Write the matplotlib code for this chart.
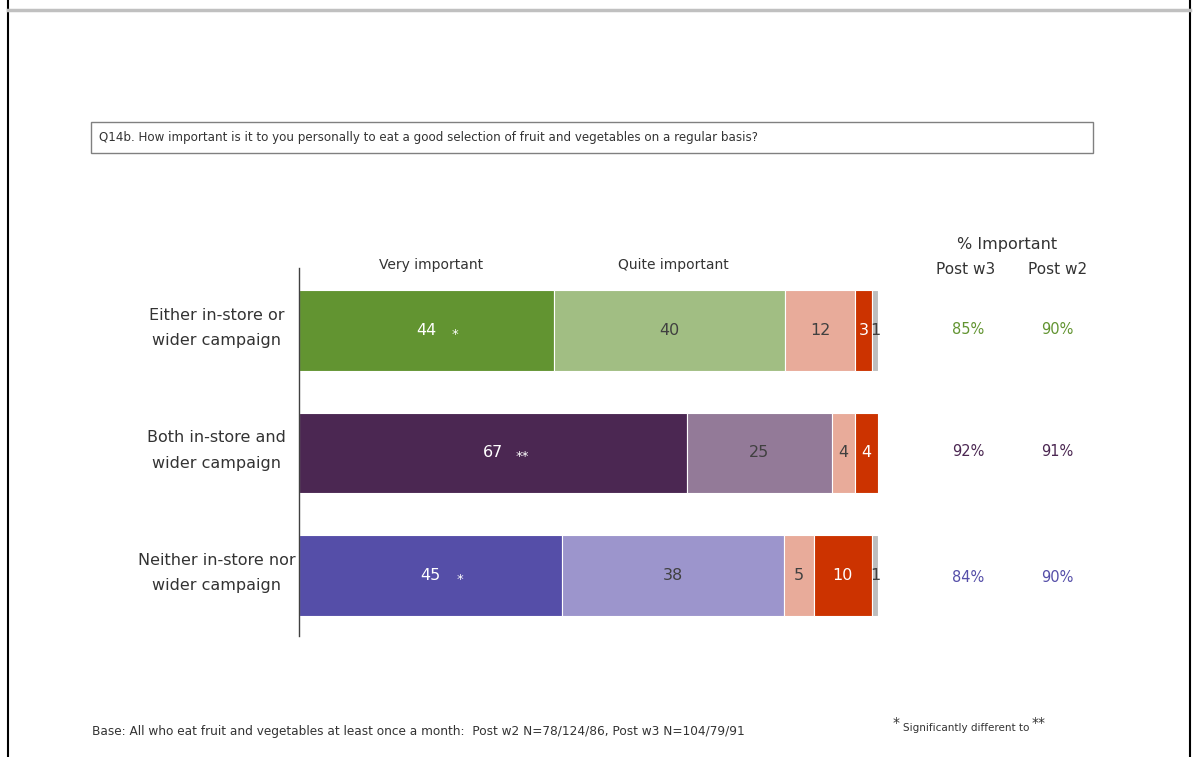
import matplotlib.pyplot as plt
import matplotlib.patches as mpatches
import matplotlib.lines as mlines

# Survey results (% of respondents)
groups = ['Either in-store or\nwider campaign',
          'Both in-store and\nwider campaign',
          'Neither in-store nor\nwider campaign']
segments = ['Very important', 'Quite important', 'Not very important',
            'Not at all important', "Don't know"]
values = [
    [44, 40, 12, 3, 1],
    [67, 25, 4, 4, 0],
    [45, 38, 5, 10, 1],
]
sig_marks = ['*', '**', '*']
pct_w3 = ['85%', '92%', '84%']
pct_w2 = ['90%', '91%', '90%']

# per-row colours for the two "important" segments
main_colors = [('#629431', '#a1be83'),
               ('#4b2752', '#937a98'),
               ('#554ea8', '#9c95cc')]
salmon = '#e8ab9a'
red = '#cc3300'
grey = '#bdbdbd'
dark_text = '#404040'

W, H = 1199, 757
fig = plt.figure(figsize=(W / 100, H / 100), dpi=100)
plt.rcParams['font.family'] = ['DejaVu Sans']


def fx(px):
    return px / W


def fy(py):
    return 1 - py / H


# page frame
fig.add_artist(mlines.Line2D([fx(8), fx(8)], [0, 1], color='black', lw=1.5))
fig.add_artist(mlines.Line2D([fx(1190), fx(1190)], [0, 1], color='black', lw=1.5))
fig.add_artist(mlines.Line2D([fx(8), fx(1190)], [fy(10), fy(10)], color='#c0c0c0', lw=2.5))

# question box
fig.add_artist(mpatches.Rectangle((fx(91), fy(153)), fx(1093) - fx(91), fy(122) - fy(153),
                                  fill=False, edgecolor='#808080', lw=1))
fig.text(fx(99), fy(138), 'Q14b. How important is it to you personally to eat a good selection of '
         'fruit and vegetables on a regular basis?', fontsize=8.6, color='#333333', va='center')

ax = fig.add_axes([fx(299), fy(636), fx(878) - fx(299), fy(268) - fy(636)])

# bars are drawn as shares of each row total (100% stacked)
for i, row in enumerate(values):
    colors = [main_colors[i][0], main_colors[i][1], salmon, red, grey]
    txt_colors = ['white', dark_text, dark_text, 'white', dark_text]
    total = sum(row)
    left = 0
    for j, v in enumerate(row):
        if v == 0:
            continue
        w = v * 100 / total
        ax.barh(i, w, left=left, height=0.66, color=colors[j], edgecolor='white', linewidth=0.8)
        cx = left + w / 2
        if j == 4:
            cx = left + w * 0.6
        ax.text(cx, i, str(v), ha='center', va='center', fontsize=11.5, color=txt_colors[j])
        if j == 0:
            ax.text(cx + 5, i + 0.03, sig_marks[i], ha='center', va='center',
                    fontsize=9.5, color='white')
        left += w

ax.set_xlim(0, 100)
ax.set_ylim(2.494, -0.51)
ax.set_xticks([])
ax.set_yticks([])
for s in ['top', 'right', 'bottom']:
    ax.spines[s].set_visible(False)
ax.spines['left'].set_color('#404040')
ax.spines['left'].set_linewidth(1)

# row labels
for i, g in enumerate(groups):
    ax.text(-14.2, i - 0.02, g, ha='center', va='center', fontsize=11.5, color='#333333',
            linespacing=1.9)

# segment headers
fig.text(fx(431), fy(265), segments[0], ha='center', va='center', fontsize=10, color='#333333')
fig.text(fx(673), fy(265), segments[1], ha='center', va='center', fontsize=10, color='#333333')

# % important columns
fig.text(fx(1007), fy(244), '% Important', ha='center', va='center', fontsize=11.5, color='#333333')
fig.text(fx(966), fy(269), 'Post w3', ha='center', va='center', fontsize=11, color='#333333')
fig.text(fx(1058), fy(269), 'Post w2', ha='center', va='center', fontsize=11, color='#333333')
row_y = [329, 452, 577]
for i in range(3):
    c = main_colors[i][0]
    fig.text(fx(968), fy(row_y[i]), pct_w3[i], ha='center', va='center', fontsize=10.5, color=c)
    fig.text(fx(1057), fy(row_y[i]), pct_w2[i], ha='center', va='center', fontsize=10.5, color=c)

# footer
fig.text(fx(92), fy(731), 'Base: All who eat fruit and vegetables at least once a month:  '
         'Post w2 N=78/124/86, Post w3 N=104/79/91', fontsize=8.7, color='#333333', va='center')
fig.text(fx(896), fy(723), '*', fontsize=10, color='#333333', va='center', ha='center')
fig.text(fx(903), fy(728), 'Significantly different to', fontsize=7.5, color='#333333', va='center')
fig.text(fx(1039), fy(723), '**', fontsize=10, color='#333333', va='center', ha='center')

fig.savefig('out.png', dpi=100)
